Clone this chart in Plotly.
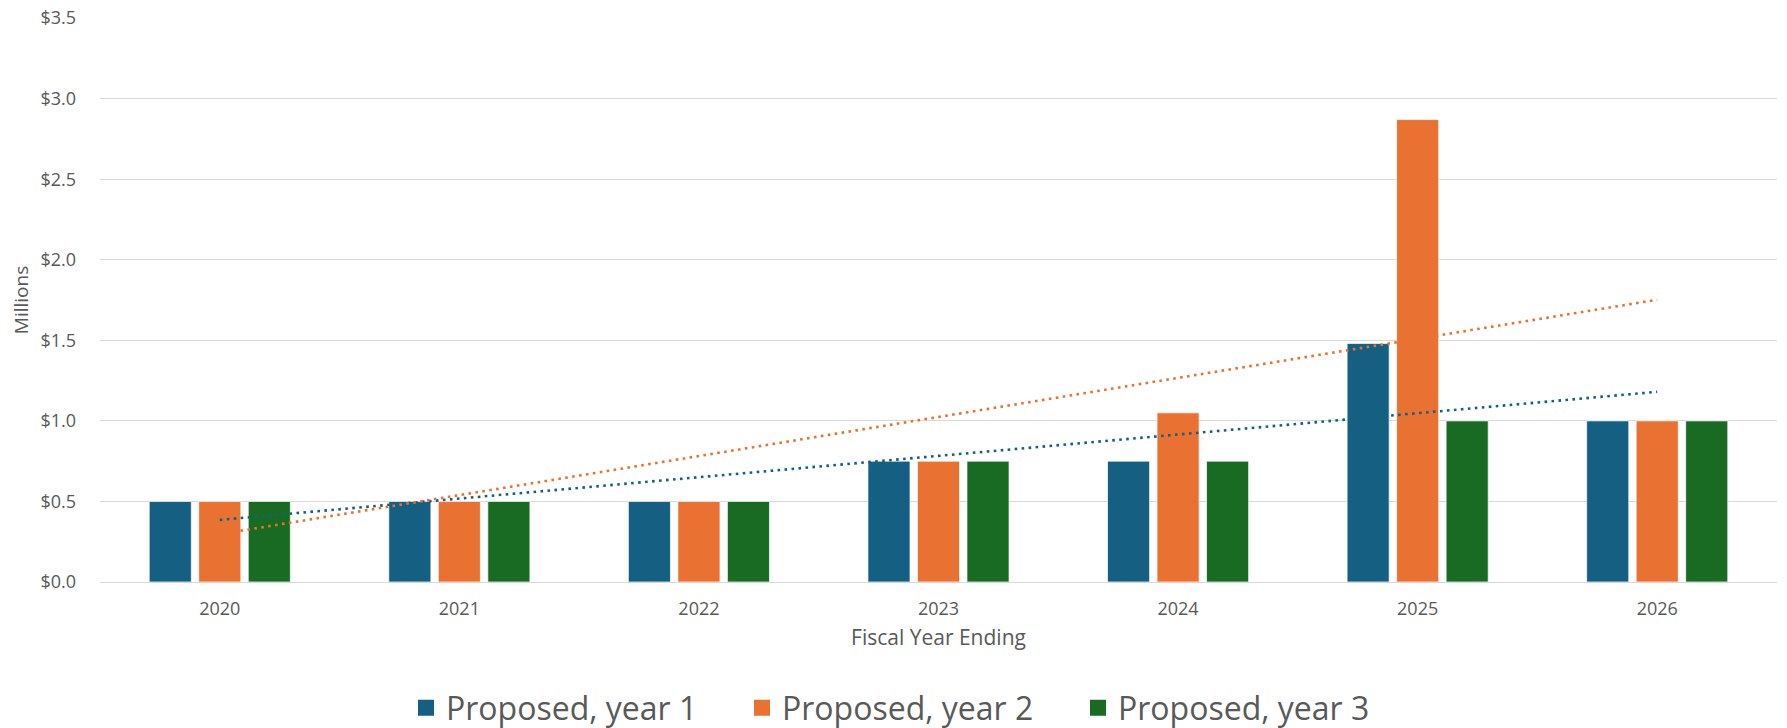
import numpy as np
import plotly.graph_objects as go

years = ["2020", "2021", "2022", "2023", "2024", "2025", "2026"]
year1 = [0.5, 0.5, 0.5, 0.75, 0.75, 1.48, 1.0]
year2 = [0.5, 0.5, 0.5, 0.75, 1.05, 2.87, 1.0]
year3 = [0.5, 0.5, 0.5, 0.75, 0.75, 1.0, 1.0]
names = ["Proposed, year 1", "Proposed, year 2", "Proposed, year 3"]
colors = ["#156082", "#E97132", "#196B24"]
trend_series = [0, 1]  # series with linear trendlines

FONT = "Open Sans, Liberation Sans, Arial, sans-serif"
TXT = "#595959"

series = [year1, year2, year3]
fig = go.Figure()
for vals, nm, col in zip(series, names, colors):
    fig.add_trace(go.Bar(
        x=years, y=vals, name=nm, showlegend=False,
        marker=dict(color=col, line=dict(color="rgba(255,255,255,0.7)", width=1)),
    ))

# linear trendlines (least squares over category index, as in the spreadsheet)
idx = np.arange(1, len(years) + 1)
for i in trend_series:
    slope, icpt = np.polyfit(idx, np.array(series[i]), 1)
    fig.add_trace(go.Scatter(
        x=[years[0], years[-1]], y=[icpt + slope * idx[0], icpt + slope * idx[-1]],
        mode="lines", showlegend=False, hoverinfo="skip",
        line=dict(color=colors[i], width=2.6, dash="2.6px,4.4px"),
    ))

# legend entries
for nm, col in zip(names, colors):
    fig.add_trace(go.Scatter(
        x=[None], y=[None], mode="markers", name=nm,
        marker=dict(symbol="square", size=16, color=col),
    ))

# page body adds an 8px margin, so the figure is sized to fit the window
W, H = 1779, 720
fig.update_layout(
    width=W, height=H,
    margin=dict(l=92, r=10, t=10, b=146, autoexpand=False),
    paper_bgcolor="white", plot_bgcolor="white",
    font=dict(family=FONT, color=TXT),
    barmode="group", bargap=0.38, bargroupgap=0.15,
    legend=dict(
        orientation="h", xref="container", yref="container",
        x=398 / W, xanchor="left", y=(H - 700) / H, yanchor="middle",
        font=dict(size=32, color=TXT), itemwidth=30, tracegroupgap=0,
        entrywidth=291,
    ),
)
fig.update_xaxes(
    type="category", showgrid=False, showline=False, zeroline=False,
    automargin=False,
    tickfont=dict(size=18, color=TXT), ticks="", ticklabelstandoff=14,
    title=dict(text="Fiscal Year Ending", font=dict(size=21, color=TXT), standoff=11),
)
fig.update_yaxes(
    range=[0, 3.5005], dtick=0.5, tick0=0, tickformat="$.1f",
    showgrid=True, gridcolor="#D9D9D9", gridwidth=1.3,
    zeroline=True, zerolinecolor="#D9D9D9", zerolinewidth=1.3,
    showline=False, ticks="", automargin=False, ticklabeloverflow="allow",
    tickfont=dict(size=18, color=TXT), ticklabelstandoff=23,
    title=dict(text="Millions", font=dict(size=19, color=TXT), standoff=10),
)

fig.write_html("out.html")
